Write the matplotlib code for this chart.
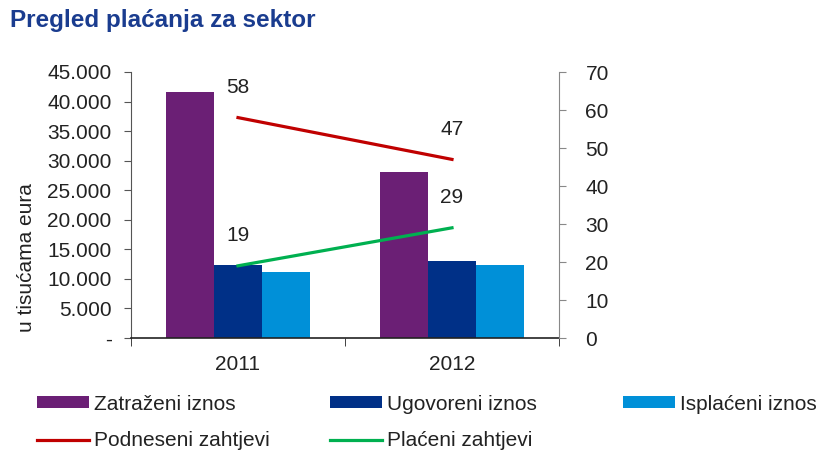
import matplotlib.pyplot as plt
import numpy as np

plt.rcParams['font.family'] = ['Liberation Sans', 'DejaVu Sans']

years = ['2011', '2012']
zatrazeni = [41700, 28000]
ugovoreni = [12400, 13000]
isplaceni = [11100, 12400]
podneseni = [58, 47]
placeni = [19, 29]

left_ticks = [0, 5000, 10000, 15000, 20000, 25000, 30000, 35000, 40000, 45000]
left_labels = ['-', '5.000', '10.000', '15.000', '20.000', '25.000',
               '30.000', '35.000', '40.000', '45.000']

purple = '#6B1F75'
navy = '#003087'
sky = '#0090D8'
red = '#C00000'
green = '#00B050'
txt = '#222222'
fs = 15

W, H = 820, 451
fig = plt.figure(figsize=(W / 100, H / 100), dpi=100)
ax = fig.add_axes([131 / W, 113 / H, 428 / W, 266 / H])
ax2 = ax.twinx()

x = np.arange(len(years))
bw = 0.225
b1 = ax.bar(x - bw, zatrazeni, bw, color=purple, label='Zatraženi iznos')
b2 = ax.bar(x, ugovoreni, bw, color=navy, label='Ugovoreni iznos')
b3 = ax.bar(x + bw, isplaceni, bw, color=sky, label='Isplaćeni iznos')

l1, = ax2.plot(x, podneseni, color=red, lw=2.3, label='Podneseni zahtjevi')
l2, = ax2.plot(x, placeni, color=green, lw=2.3, label='Plaćeni zahtjevi')

# value labels above the line points
for vals in (podneseni, placeni):
    for xi, v in zip(x, vals):
        ax2.annotate(str(v), (xi, v), xytext=(0, 30), textcoords='offset pixels',
                     ha='center', va='center', fontsize=fs, color=txt)

ax.set_xlim(-0.5, 1.5)
ax.set_ylim(0, 45000)
ax2.set_ylim(0, 70)
ax.set_yticks(left_ticks)
ax.set_yticklabels(left_labels)
ax2.set_yticks(range(0, 71, 10))

ax.set_xticks(x)
ax.set_xticklabels(years)
ax.set_xticks([-0.5, 0.5, 1.5], minor=True)
ax.tick_params(axis='x', which='major', length=0, pad=12, labelsize=fs, labelcolor=txt)
ax.tick_params(axis='x', which='minor', length=6, direction='out', color='#222222')
ax.tick_params(axis='y', length=5, direction='out', color='#555555', labelsize=fs,
               labelcolor=txt, pad=9)
ax2.tick_params(axis='y', length=5, direction='out', color='#888888', labelsize=fs,
                labelcolor=txt, pad=14)

for a in (ax, ax2):
    a.spines['top'].set_visible(False)
ax.spines['left'].set_color('#555555')
ax2.spines['left'].set_visible(False)
ax2.spines['right'].set_color('#888888')
ax2.spines['bottom'].set_visible(False)
ax.spines['right'].set_visible(False)
ax.spines['bottom'].set_color('#222222')
ax.spines['bottom'].set_linewidth(1.2)

fig.text(27 / W, 1 - 258 / H, 'u tisućama eura', rotation=90, ha='center', va='center',
         fontsize=fs, color=txt)
fig.text(10 / W, 1 - 21 / H, 'Pregled plaćanja za sektor', ha='left', va='center',
         fontsize=17.5, fontweight='bold', color='#1A3C8F')

# legend entries laid out on a fixed grid
slots = [(b1, 37, 404), (b2, 330, 404), (b3, 623, 404), (l1, 37, 441), (l2, 330, 441)]
for h, px, py in slots:
    fig.legend([h], [h.get_label()], loc='center left', bbox_to_anchor=(px / W, 1 - py / H),
               frameon=False, fontsize=fs, handlelength=2.5, handleheight=0.5,
               handletextpad=0.25, borderpad=0, borderaxespad=0, labelcolor=txt)

fig.savefig('out.png', dpi=100)
